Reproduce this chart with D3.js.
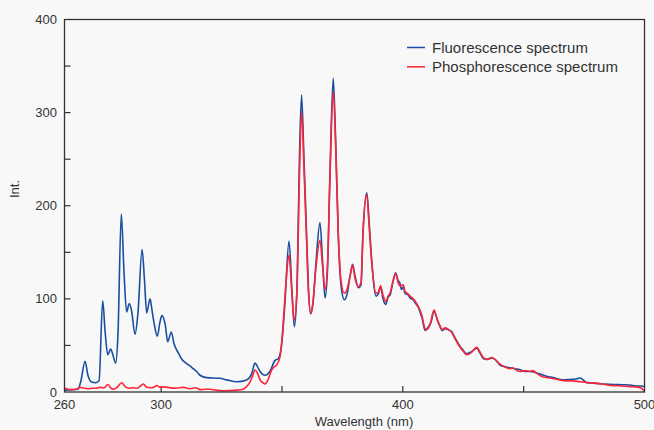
<!DOCTYPE html>
<html><head><meta charset="utf-8">
<script src="https://cdn.jsdelivr.net/npm/d3@7"></script>
<style>
html,body{margin:0;padding:0;background:#f8f8f8;}
svg{display:block;font-family:"Liberation Sans",Arial,sans-serif;}
</style></head>
<body><svg id="chart" width="654" height="430"></svg>
<script>
const fluoWavelength = [260,265.6,266.8,268.5,269.7,271,273,274.3,275.8,276.8,277.9,279.1,280,281.2,282.1,283.5,284.6,285.7,286.8,287.7,289.2,290.4,292.1,293.1,294,295.4,296.2,297.2,298.4,299.5,300.3,301.7,302.7,304.2,305.3,307.1,308.6,310.3,311.9,313.3,314.7,316.1,318.8,324.3,327.1,331.3,335.4,337.5,338.8,340.1,340.9,343,345,347.1,348.5,349.9,351.2,352.9,354.1,355.1,356.2,357.2,358.1,359.1,360.2,360.9,361.9,362.8,364.1,365.7,366.8,367.8,368.8,369.9,371.2,372.2,373.3,374.4,375.8,376.9,378.2,379.2,380.2,381.6,382.7,383.5,385.1,386,387.1,388.9,389.8,390.8,391.8,392.9,393.9,394.7,395.9,397,398,398.8,399.4,400.2,400.9,402.3,403,404.3,405,406.4,407.1,407.9,409.2,410,410.8,411.7,412.9,414.2,415.4,416.3,417.5,418.8,420.2,421.6,423.7,424.9,426.4,428.2,430.6,431.9,433.3,434.8,436.8,438.1,440.2,442.3,444.3,446.4,448.5,450.5,452.6,455.4,456.8,459.5,462.1,466.4,469.2,471.7,473.3,474.6,476.1,480.3,483.7,487.1,490.7,494,496.5,498.8,500];
const fluoIntensity = [2,3,12,33,18,11,10,12,98,65,40,46,40,31,60,191,130,86,95,88,62,85,153,120,85,100,88,72,60,75,82,72,54,64.5,52,42,35,31,28,25,22,18,15.4,14.7,13,11,13,20,31,26,22,18,22,34,36,52,95,162,110,70,110,250,319,250,167,115,84,95,140,182,140,101,130,240,337,270,167,115,99,105,125,137,125,112,115,170,214,185,142,103,105,113,100,94,102,104,118,128,120,117,110,113,106,104,101,99,96,91,86,80,66,68,71,75,87,78,70,66,68,67,65,58,49,45,41,43,47,42,36,35,36.5,35,29,27,26,25,24,22,22,20.5,19.4,17,15.5,13,13.5,14,15,13,10,9.3,8.5,8,7.8,7.5,6.5,6.5,6];

const phosWavelength = [260,261.4,263.1,264.8,266.4,268.1,269.7,271.4,273,274.7,276.3,278,279.2,280.5,281.7,283.7,285,286.7,288.3,290,291.2,292.6,294.1,295.8,297,298.2,299.5,301.2,303.7,306.1,309.2,311.9,314.4,316.1,318.1,320.2,322.7,325.6,328.5,331.4,333.9,335.4,336.8,337.8,338.8,339.9,340.9,342.1,343,344.2,345.7,346.7,347.8,349.2,350.4,351.7,352.9,354,355,356.2,357.2,358.1,359.1,360.2,360.9,361.9,362.8,364.1,365.7,366.8,367.8,368.8,369.9,371.2,372.2,373.3,374.4,375.8,376.9,378.2,379.2,380.2,381.6,382.7,383.5,385.1,386,387.1,388.9,389.8,390.8,391.8,392.9,393.9,394.7,395.9,397,398,398.8,400.2,400.9,402.3,403,404.3,405.5,406.4,407.1,407.9,409.2,410,411.2,412.9,414.2,415.4,416.3,417.5,418.8,420.2,421.6,423.7,424.9,426.4,428.2,430.6,431.9,433.3,434.8,436.8,438.1,440.2,442.3,444.3,445.5,447.2,448.5,450.5,452.6,453.8,455.4,458.1,460.9,463.7,467.8,470.4,473.3,477.4,480.3,483.7,487.1,490.7,494,496.5,498.8,500];
const phosIntensity = [4,3,2.5,3,5,4,3.5,4,4,5,4.5,8,4,3,5,10,6,4,4.5,4,6,8.6,5,4.5,5,7,5,5.5,4.5,4,5,3.5,4.5,2.5,3,3,2,1.4,1.5,2,3,6,11,17,23.6,20,13,10,8.6,13,23.6,27,29,38,70,120,147,110,77,110,230,301,240,160,110,84,96,135,163,135,110,135,235,323,265,170,120,106,110,125,136,122,113,118,170,212,180,140,106,107,114,104,97,103,106,119,127,118,114,115,108,105,103,100,96,92,88,82,68,67,72,88,78,71,67,69,67,64,57,48,44,40,42,48,43,37,35,37,35,30,27,25,26,23,22,23,22,23,20,16,15,13.6,12,12,11,10,9.3,8,6.8,6.5,5.7,5.5,4,0.5];

const xTickValues = [300,350,400,450];
const xTickLabels = [260,300,400,500];
const yTickValues = [50,100,150,200,250,300,350];
const yTickLabels = [0,100,200,300,400];
const seriesNames = ["Fluorescence spectrum","Phosphorescence spectrum"];
const seriesColors = ["#1a4fa0","#ff2438"];

const svg = d3.select("#chart");
const L = 64.5, R = 644.5, T = 19.5, B = 392;
const x = d3.scaleLinear().domain([260,500]).range([L,R]);
const y = d3.scaleLinear().domain([0,400]).range([B,T]);
const ink = "#333";

svg.append("rect").attr("width",654).attr("height",430).attr("fill","#f8f8f8");

const g = svg.append("g");
g.selectAll(".xt").data(xTickValues).join("line")
  .attr("x1",d=>x(d)).attr("x2",d=>x(d)).attr("y1",B).attr("y2",B-6)
  .attr("stroke",ink).attr("stroke-width",1.2);
g.selectAll(".yt").data(yTickValues).join("line")
  .attr("x1",L).attr("x2",L+6).attr("y1",d=>y(d)).attr("y2",d=>y(d))
  .attr("stroke",ink).attr("stroke-width",1.2);

g.selectAll(".xl").data(xTickLabels).join("text")
  .attr("x",d=>x(d)).attr("y",409).attr("text-anchor","middle")
  .attr("font-size",13).attr("fill",ink).text(d=>d);
g.selectAll(".yl").data(yTickLabels).join("text")
  .attr("x",57).attr("y",d=>y(d)).attr("dy","0.35em").attr("text-anchor","end")
  .attr("font-size",13).attr("fill",ink).text(d=>d);

svg.append("text").attr("x",364).attr("y",426).attr("text-anchor","middle")
  .attr("font-size",13).attr("fill",ink).text("Wavelength (nm)");
svg.append("text").attr("transform","translate(19,189) rotate(-90)").attr("text-anchor","middle")
  .attr("font-size",13).attr("fill",ink).text("Int.");

const line = d3.line().x(d=>x(d[0])).y(d=>y(d[1])).curve(d3.curveMonotoneX);
const fluo = fluoWavelength.map((w,i)=>[w,fluoIntensity[i]]);
const phos = phosWavelength.map((w,i)=>[w,phosIntensity[i]]);
svg.append("path").datum(fluo).attr("d",line).attr("fill","none")
  .attr("stroke",seriesColors[0]).attr("stroke-width",1.6).attr("stroke-linejoin","round");
svg.append("path").datum(phos).attr("d",line).attr("fill","none")
  .attr("stroke",seriesColors[1]).attr("stroke-width",1.6).attr("stroke-linejoin","round");

svg.append("rect").attr("x",L).attr("y",T).attr("width",R-L).attr("height",B-T)
  .attr("fill","none").attr("stroke",ink).attr("stroke-width",1.3);

const lg = svg.append("g");
seriesNames.forEach((n,i)=>{
  const yy = 47.5 + i*19.3;
  lg.append("line").attr("x1",407).attr("x2",425).attr("y1",yy).attr("y2",yy)
    .attr("stroke",seriesColors[i]).attr("stroke-width",1.5);
  lg.append("text").attr("x",432).attr("y",yy+5.3).attr("font-size",15)
    .attr("fill",ink).text(n);
});
</script></body></html>
